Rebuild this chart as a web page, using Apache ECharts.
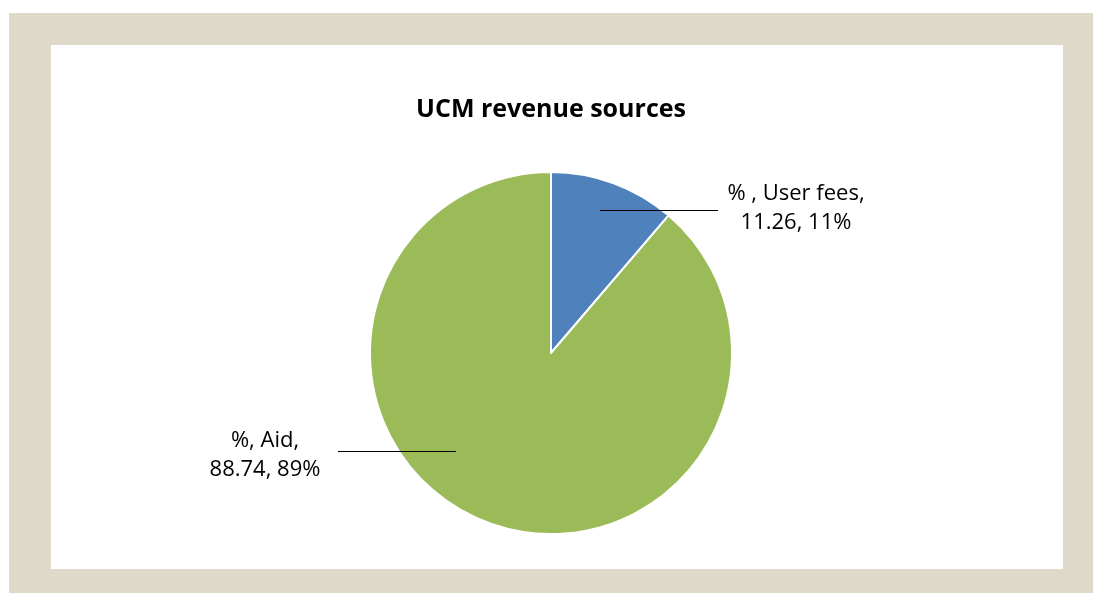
<!DOCTYPE html>
<html lang="en">
<head>
    <meta charset="UTF-8">
    <title>UCM revenue sources</title>
    <script src="https://cdn.jsdelivr.net/npm/echarts@6/dist/echarts.min.js"></script>
    <style>
        html, body { margin: 0; padding: 0; background: #fff; }
        #frame { position: absolute; left: 9px; top: 13px; width: 1084px; height: 580px; background: #DFD9C9; }
        #inner { position: absolute; left: 51px; top: 45px; width: 1012px; height: 524px; background: #fff; }
        #chart { position: absolute; left: 0; top: 0; width: 1093px; height: 593px; }
    </style>
</head>
<body>
<div id="frame"></div>
<div id="inner"></div>
<div id="chart"></div>
<script>
    // 数据
    var seriesName = '%';
    var categories = ['User fees', 'Aid'];
    var values = [11.26, 88.74];
    var labelPrefix = ['% , ', '%, '];
    var colors = ['#4F81BD', '#9BBB59'];

    var pieData = [];
    var labelData = [];
    for (var i = 0; i < categories.length; i++) {
        pieData.push({ name: categories[i], value: values[i], itemStyle: { color: colors[i] } });
        labelData.push({ name: categories[i], value: values[i] });
    }

    // 标签位置 (Excel 风格的水平引导线, 画在饼图上面)
    var labelPos = [
        { x: 796, y: 208, line: [[600, 210.5], [659, 210.5], [718, 210.5]] },
        { x: 265, y: 455, line: [[456, 451.5], [397, 451.5], [338, 451.5]] }
    ];

    var pieCenter = [551, 353];
    var pieRadius = 181;

    var myChart = echarts.init(document.getElementById('chart'));
    var option = {
        backgroundColor: 'transparent',
        title: {
            text: 'UCM revenue sources',
            left: 546,
            top: 92,
            textAlign: 'center',
            textStyle: { fontFamily: 'Open Sans', fontWeight: 'bold', fontSize: 25, color: '#000' }
        },
        series: [
            {
                name: seriesName,
                type: 'pie',
                z: 2,
                center: pieCenter,
                radius: pieRadius,
                startAngle: 90,
                clockwise: true,
                itemStyle: { borderColor: '#fff', borderWidth: 2 },
                label: { show: false },
                labelLine: { show: false },
                emphasis: { disabled: true },
                data: pieData
            },
            {
                // 只画标签和引导线
                name: seriesName,
                type: 'pie',
                z: 5,
                silent: true,
                center: pieCenter,
                radius: pieRadius,
                startAngle: 90,
                clockwise: true,
                avoidLabelOverlap: false,
                itemStyle: { color: 'rgba(0,0,0,0)', borderWidth: 0 },
                label: {
                    show: true,
                    position: 'outside',
                    fontFamily: 'Open Sans',
                    fontSize: 22,
                    lineHeight: 29,
                    color: '#000',
                    align: 'center',
                    formatter: function (p) {
                        return labelPrefix[p.dataIndex] + p.name + ',\n' + p.value + ', ' + Math.round(p.percent) + '%';
                    }
                },
                labelLine: { show: true, lineStyle: { color: '#000', width: 1.2 } },
                labelLayout: function (params) {
                    var lp = labelPos[params.dataIndex];
                    return {
                        x: lp.x,
                        y: lp.y,
                        align: 'center',
                        verticalAlign: 'middle',
                        labelLinePoints: lp.line
                    };
                },
                emphasis: { disabled: true },
                data: labelData
            }
        ]
    };
    myChart.setOption(option);
</script>
</body>
</html>
